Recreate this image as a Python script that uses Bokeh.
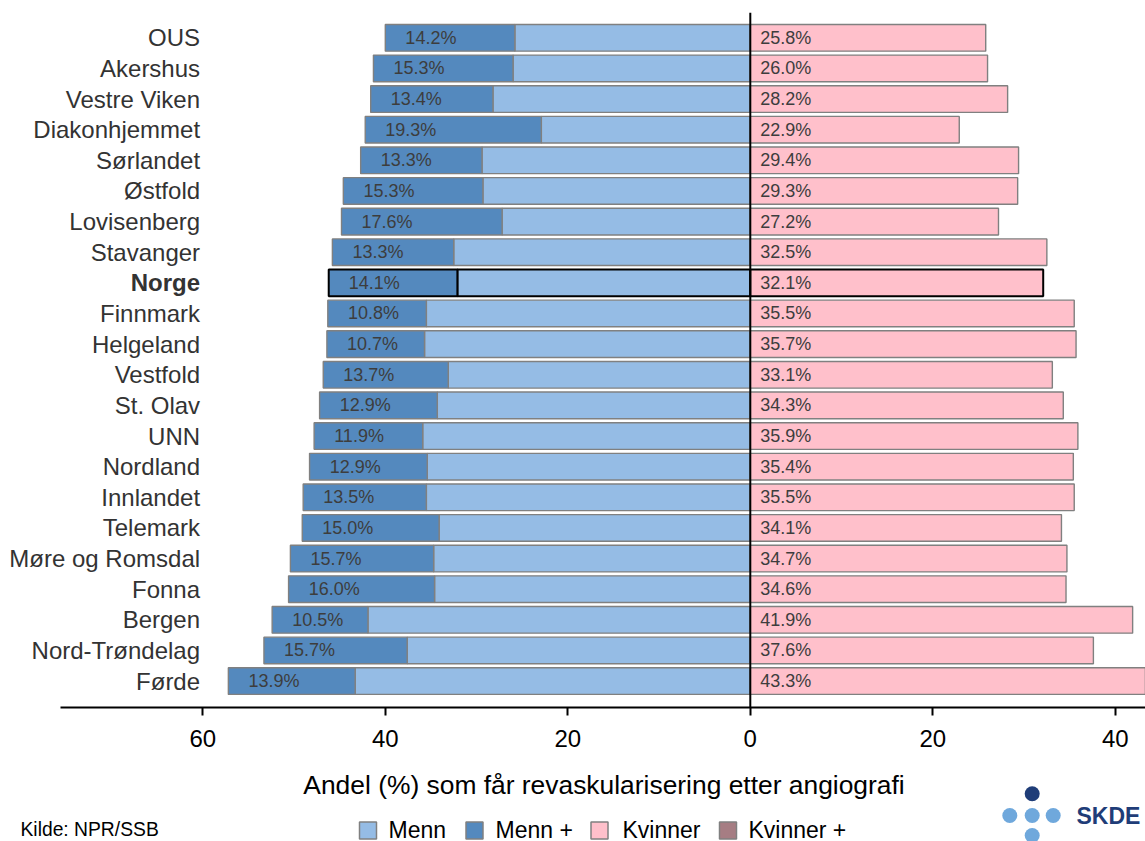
from bokeh.plotting import figure
from bokeh.models import Range1d, ColumnDataSource, Span, FixedTicker
from bokeh.layouts import column
from bokeh.core.properties import value
from bokeh.embed import file_html
from bokeh.resources import INLINE

# ---------------- data ----------------
categories = ["OUS", "Akershus", "Vestre Viken", "Diakonhjemmet", "Sørlandet", "Østfold",
              "Lovisenberg", "Stavanger", "Norge", "Finnmark", "Helgeland", "Vestfold",
              "St. Olav", "UNN", "Nordland", "Innlandet", "Telemark", "Møre og Romsdal",
              "Fonna", "Bergen", "Nord-Trøndelag", "Førde"]
kvinner = [25.8, 26.0, 28.2, 22.9, 29.4, 29.3, 27.2, 32.5, 32.1, 35.5, 35.7, 33.1,
           34.3, 35.9, 35.4, 35.5, 34.1, 34.7, 34.6, 41.9, 37.6, 43.3]
menn_pluss = [14.2, 15.3, 13.4, 19.3, 13.3, 15.3, 17.6, 13.3, 14.1, 10.8, 10.7, 13.7,
              12.9, 11.9, 12.9, 13.5, 15.0, 15.7, 16.0, 10.5, 15.7, 13.9]
highlight = "Norge"
tick_values = [-60, -40, -20, 0, 20, 40]
legend_labels = ["Menn", "Menn +", "Kvinner", "Kvinner +"]
source_text = "Kilde: NPR/SSB"
x_title = "Andel (%) som får revaskularisering etter angiografi"

# ---------------- style ----------------
C_MENN = "#95BCE5"
C_MENNP = "#5489BE"
C_KV = "#FFC0CB"
C_KVP = "#A67D83"
C_EDGE = "#808080"
FONT = "Liberation Sans"
NAVY = "#1F3D78"
LIGHT = "#6FA8DC"

n = len(categories)
ys = [n - 1 - i for i in range(n)]
men_total = [k + m for k, m in zip(kvinner, menn_pluss)]
is_hl = [c == highlight for c in categories]

src = ColumnDataSource(dict(
    y=ys,
    cat=categories,
    neg_k=[-k for k in kvinner],
    neg_t=[-t for t in men_total],
    kv=kvinner,
    lab_m=[f"{m:.1f}%" for m in menn_pluss],
    lab_k=[f"{k:.1f}%" for k in kvinner],
    lab_m_x=[-t + 2.2 for t in men_total],
    fstyle=["bold" if h else "normal" for h in is_hl],
    lc=["black" if h else C_EDGE for h in is_hl],
    lw=[2.0 if h else 1.4 for h in is_hl],
))

p = figure(width=1145, height=768,
           x_range=Range1d(-82.17, 43.31), y_range=Range1d(-0.862, 21.826),
           output_backend="svg", toolbar_location=None, title=None,
           min_border_left=0, min_border_right=0, min_border_top=12, min_border_bottom=61,
           y_axis_location=None)

bh = 0.87
p.hbar(y="y", left="neg_k", right=0, height=bh, source=src,
       fill_color=C_MENN, line_color="lc", line_width="lw")
p.hbar(y="y", left="neg_t", right="neg_k", height=bh, source=src,
       fill_color=C_MENNP, line_color="lc", line_width="lw")
p.hbar(y="y", left=0, right="kv", height=bh, source=src,
       fill_color=C_KV, line_color="lc", line_width="lw")

p.add_layout(Span(location=0, dimension="height", line_color="black", line_width=2))

p.text(x="lab_m_x", y="y", text="lab_m", source=src, text_align="left",
       text_baseline="middle", text_font_size="18px", text_color="#3d3d3d",
       text_font=value(FONT))
p.text(x=1.1, y="y", text="lab_k", source=src, text_align="left",
       text_baseline="middle", text_font_size="18px", text_color="#3d3d3d",
       text_font=value(FONT))
p.text(x=-60.3, y="y", text="cat", source=src, text_align="right",
       text_baseline="middle", text_font_size="24px", text_color="#333333",
       text_font_style="fstyle", text_font=value(FONT))

ax = p.xaxis[0]
ax.ticker = FixedTicker(ticks=tick_values)
ax.major_label_overrides = {t: str(abs(t)) for t in tick_values}
ax.bounds = (-75.55, 43.31)
ax.axis_line_width = 2
ax.axis_line_color = "black"
ax.major_tick_line_width = 2
ax.major_tick_line_color = "black"
ax.major_tick_out = 8
ax.major_tick_in = 0
ax.minor_tick_out = 0
ax.minor_tick_in = 0
ax.major_label_text_font_size = "24px"
ax.major_label_text_color = "black"
ax.major_label_text_font = FONT
ax.major_label_standoff = 14

p.xgrid.visible = False
p.ygrid.visible = False
p.outline_line_color = None

# ---------------- bottom strip: title, legend, source, logo ----------------
q = figure(width=1145, height=73, x_range=Range1d(0, 1145), y_range=Range1d(841, 768),
           output_backend="svg", toolbar_location=None, title=None,
           min_border_left=0, min_border_right=0, min_border_top=0, min_border_bottom=0,
           x_axis_location=None, y_axis_location=None)
q.xgrid.visible = False
q.ygrid.visible = False
q.outline_line_color = None

q.text(x=[603.5], y=[784], text=[x_title], text_align="center", text_baseline="middle",
       text_font_size="26.4px", text_color="black", text_font=value(FONT))
q.text(x=[20], y=[829], text=[source_text], text_align="left", text_baseline="middle",
       text_font_size="19.3px", text_color="black", text_font=value(FONT))

leg_src = ColumnDataSource(dict(
    x=[367.5, 474, 599, 727.5],
    tx=[388, 495, 622, 748],
    lab=legend_labels,
    col=[C_MENN, C_MENNP, C_KV, C_KVP],
))
q.rect(x="x", y=830, width=17, height=17, source=leg_src,
       fill_color="col", line_color=C_EDGE, line_width=1.5)
q.text(x="tx", y=829, text="lab", source=leg_src, text_align="left",
       text_baseline="middle", text_font_size="23px", text_color="black",
       text_font=value(FONT))

q.scatter(x=[1031.7], y=[793.3], size=15, fill_color=NAVY, line_color=None)
q.scatter(x=[1009.3, 1031.7, 1052.7, 1031.7], y=[815, 815, 815, 835], size=15,
          fill_color=LIGHT, line_color=None)
q.text(x=[1076], y=[815], text=["SKDE"], text_align="left", text_baseline="middle",
       text_font_size="23px", text_font_style="bold", text_color=NAVY,
       text_font=value(FONT))

layout = column(p, q, spacing=0)
open("out.html", "w").write(file_html(layout, INLINE))
